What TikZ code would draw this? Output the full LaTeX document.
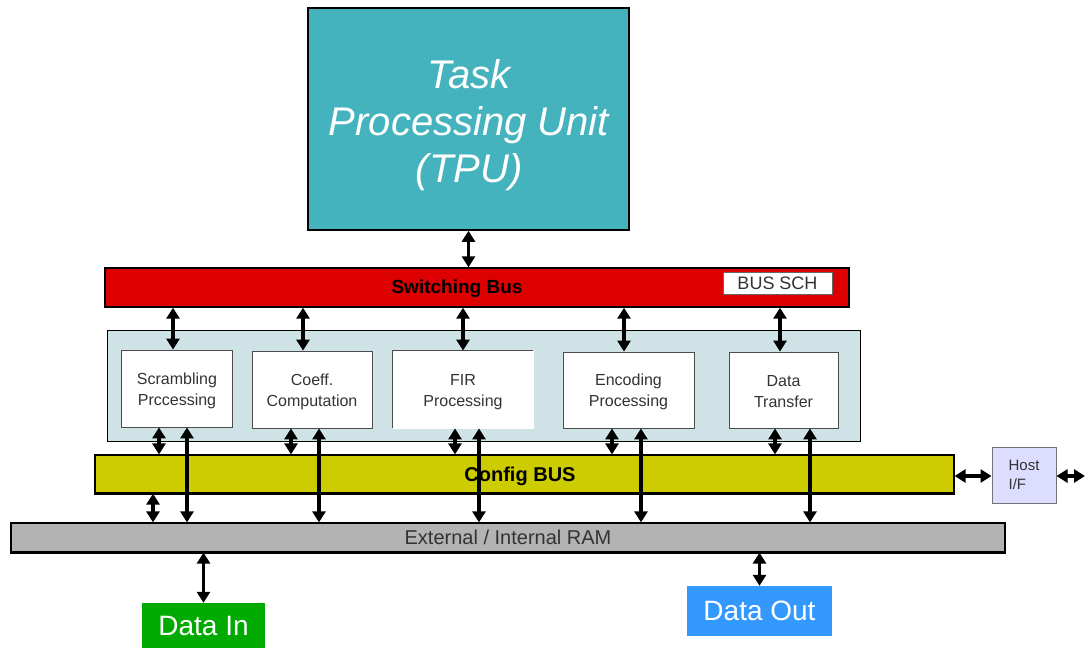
\documentclass[tikz,border=0pt]{standalone}
\usepackage{fontspec}
\setmainfont{Liberation Sans}
\usetikzlibrary{arrows.meta}
\definecolor{tpuc}{HTML}{45B3BD}
\definecolor{busred}{HTML}{DD0000}
\definecolor{cfgc}{HTML}{CCCC00}
\definecolor{panelc}{HTML}{CFE2E6}
\definecolor{ramc}{HTML}{B3B3B3}
\definecolor{hostc}{HTML}{DDDDFF}
\definecolor{inc}{HTML}{00AA00}
\definecolor{outc}{HTML}{3399FF}
\definecolor{txtg}{HTML}{333333}
\tikzset{
  box/.style={draw, inner sep=0pt, align=center},
  modbox/.style={draw=black!70, line width=0.8pt, fill=white, inner sep=0pt, align=center},
  modtxt/.style={inner sep=0pt, align=center, text=txtg, font=\fontsize{16}{21}\selectfont},
  dar/.style={line width=3.4pt, {Triangle[length=11pt,width=13pt]}-{Triangle[length=11pt,width=13pt]}}
}
\begin{document}
\begin{tikzpicture}[x=1pt,y=-1pt]
\useasboundingbox (0,0) rectangle (1085,649);
% TPU
\node[box, fill=tpuc, line width=1.6pt, minimum width=321pt, minimum height=222pt] (tpu) at (468.5,119) {};
\node[inner sep=0pt, align=center, text=white, font=\itshape\fontsize{40}{47}\selectfont] (tpul) at (469,125) {Task\\Processing Unit\\(TPU)};
% Switching bus
\node[box, fill=busred, line width=1.4pt, minimum width=744pt, minimum height=39pt] (sw) at (477,287.5) {};
\node[font=\bfseries\fontsize{19}{22}\selectfont, inner sep=0pt] (swl) at (457,289) {Switching Bus};
\node[box, fill=white, draw=black!60, line width=0.8pt, minimum width=109pt, minimum height=22pt, text=txtg, font=\fontsize{18}{20}\selectfont] (sch) at (777.5,283) {BUS SCH};
% panel
\node[box, fill=panelc, line width=0.8pt, minimum width=753pt, minimum height=111pt] (panel) at (483.5,385.5) {};
% modules
\node[modbox, minimum width=111pt, minimum height=77pt] (scr) at (176.5,388.5) {};
\node[modtxt] (scrl) at (177,391) {Scrambling\\Prccessing};
\node[modbox, minimum width=120pt, minimum height=77pt] (coef) at (312,389.5) {};
\node[modtxt] (coefl) at (312,392) {Coeff.\\Computation};
\node[modbox, draw=white, minimum width=140pt, minimum height=77pt] (fir) at (463,389.5) {};
\draw[black!70, line width=0.8pt] (fir.south west) -- (fir.north west) -- (fir.north east);
\node[modtxt] (firl) at (463,392) {FIR\\Processing};
\node[modbox, minimum width=131pt, minimum height=76pt] (enc) at (628.5,390) {};
\node[modtxt] (encl) at (628.5,392) {Encoding\\Processing};
\node[modbox, minimum width=109pt, minimum height=76pt] (dt) at (783.5,390) {};
\node[modtxt] (dtl) at (783.5,392) {Data\\Transfer};
% config bus
\node[box, fill=cfgc, line width=1.2pt, minimum width=859pt, minimum height=38pt] (cfg) at (524.5,474) {};
\node[font=\bfseries\fontsize{20}{22}\selectfont, inner sep=0pt] (cfgl) at (520,476) {Config BUS};
\draw[line width=2.4pt] (cfg.south west) -- (cfg.south east);
% RAM
\node[box, fill=ramc, line width=1.2pt, minimum width=994pt, minimum height=29pt, text=txtg, font=\fontsize{20}{22}\selectfont] (ram) at (508,537.5) {External / Internal RAM};
\draw[line width=2.4pt] (ram.south west) -- (ram.south east);
% Host
\node[box, fill=hostc, draw=black!55, line width=1pt, minimum width=64pt, minimum height=56pt, text=txtg, font=\fontsize{15}{19}\selectfont, align=left] (host) at (1024,475) {Host\\I/F};
% Data in / out
\node[fill=inc, text=white, minimum width=123pt, minimum height=45pt, inner sep=0pt, font=\fontsize{28}{30}\selectfont] (din) at (203.5,625.5) {Data In};
\node[fill=outc, text=white, minimum width=145pt, minimum height=50pt, inner sep=0pt, font=\fontsize{28}{30}\selectfont] (dout) at (759.5,611) {Data Out};
% coordinates
\coordinate (a1) at ([xshift=-3.5pt]scr.north);
\coordinate (a2) at ([xshift=-9pt]coef.north);
\coordinate (a3) at (fir.north);
\coordinate (a4) at ([xshift=-4.5pt]enc.north);
\coordinate (a5) at ([xshift=-3.5pt]dt.north);
\coordinate (b1) at ([xshift=-17.5pt]scr.south);
\coordinate (b2) at ([xshift=-21pt]coef.south);
\coordinate (b3) at ([xshift=-8pt]fir.south);
\coordinate (b4) at ([xshift=-16.5pt]enc.south);
\coordinate (b5) at ([xshift=-8.5pt]dt.south);
\coordinate (c1) at ([xshift=10.5pt]scr.south);
\coordinate (c2) at ([xshift=7pt]coef.south);
\coordinate (c3) at ([xshift=16pt]fir.south);
\coordinate (c4) at ([xshift=12.5pt]enc.south);
\coordinate (c5) at ([xshift=26.5pt]dt.south);
\coordinate (d1) at (153,493);
\coordinate (hr) at (1085,476);
% arrows
\draw[dar] (tpu.south) -- (tpu.south |- sw.north);
\foreach \p in {a1,a2,a3,a4,a5} {\draw[dar] (\p |- sw.south) -- (\p);}
\foreach \p in {b1,b2,b3,b4,b5} {\draw[dar] (\p) -- (\p |- cfg.north);}
\foreach \p in {c1,c2,c3,c4,c5} {\draw[dar] (\p) -- (\p |- ram.north);}
\draw[dar] (d1 |- cfg.south) -- (d1 |- ram.north);
\draw[dar] (cfg.east |- hr) -- (host.west |- hr);
\draw[dar] (host.east |- hr) -- (hr);
\draw[dar] (ram.south -| din.north) -- (din.north);
\draw[dar] (ram.south -| dout.north) -- (dout.north);
\end{tikzpicture}
\end{document}
